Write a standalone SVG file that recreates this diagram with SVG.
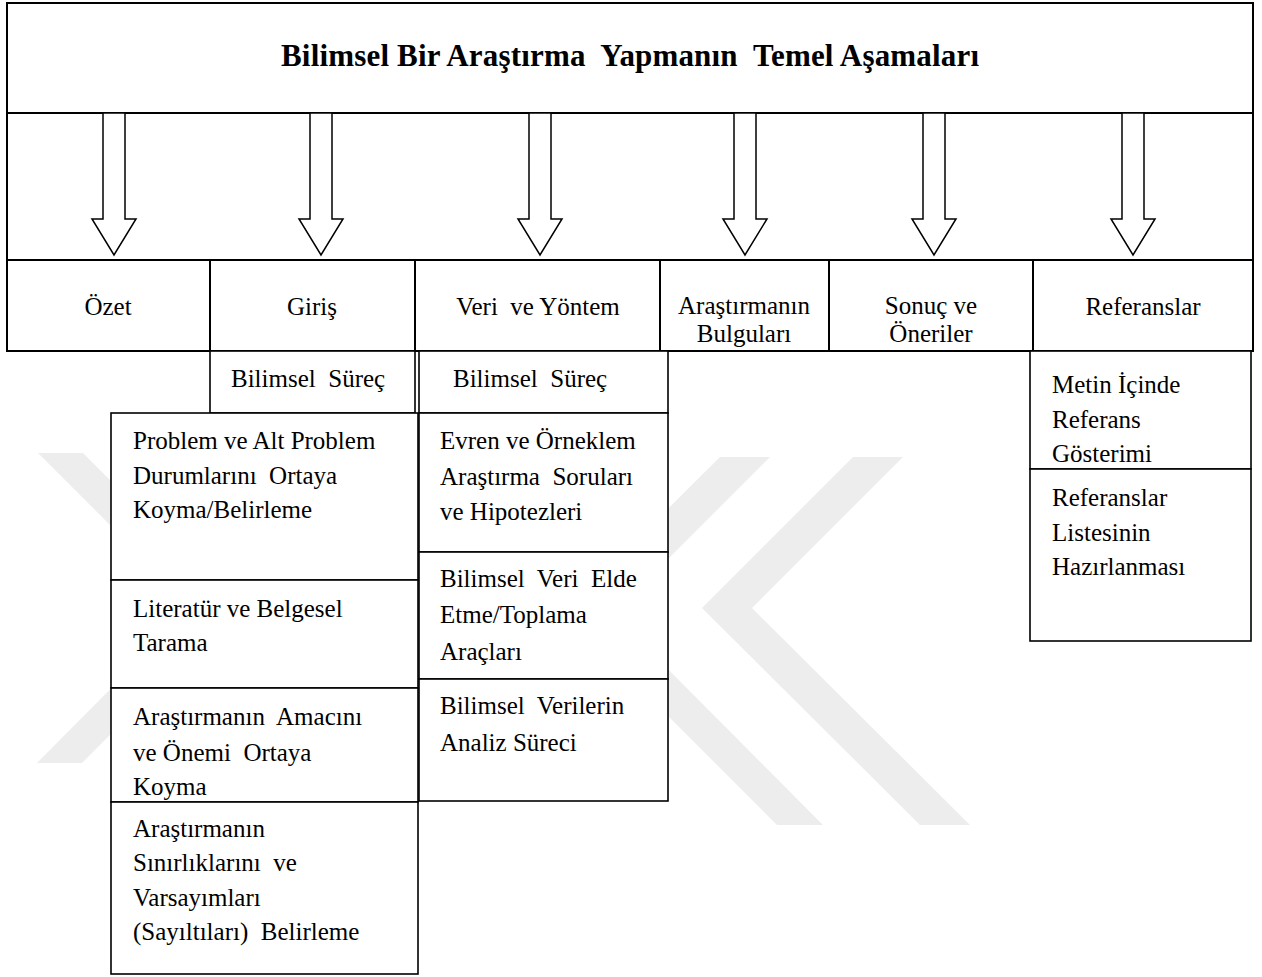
<svg xmlns="http://www.w3.org/2000/svg" width="1262" height="977" viewBox="0 0 1262 977">
<style>
.frame{fill:none;stroke:#000;stroke-width:2}
.cell{fill:none;stroke:#000;stroke-width:2}
.box{fill:#fff;stroke:#000;stroke-width:1.6}
.arrow{fill:#fff;stroke:#000;stroke-width:1.5;stroke-linejoin:miter}
.t{font-family:"Liberation Serif","Times New Roman",serif;font-size:25px;fill:#000}
.c{text-anchor:middle}
.title{font-family:"Liberation Serif","Times New Roman",serif;font-size:31px;font-weight:bold;text-anchor:middle;fill:#000}
.wm{fill:#ededed}
</style>
<defs>
<polygon id="arr" points="-11,0 11,0 11,106 22,106 0,142 -22,106 -11,106"/>
</defs>
<rect width="1262" height="977" fill="#fff"/>
<g id="watermark">
<polygon class="wm" points="38,453 83,453 237,607 82,763 37,763 192,607"/>
<polygon class="wm" points="720,457 770,457 613,614 823,825 777,825 564,612"/>
<polygon class="wm" points="853,457 903,457 752,608 970,825 920,825 702,608"/>
</g>
<g id="title">
<rect class="frame" x="7" y="3" width="1246" height="110"/>
<text class="title" x="630" y="66" textLength="698" lengthAdjust="spacing" xml:space="preserve">Bilimsel Bir Araştırma  Yapmanın  Temel Aşamaları</text>
</g>
<g id="frame-sides">
<line class="frame" x1="7" y1="113" x2="7" y2="260"/>
<line class="frame" x1="1253" y1="113" x2="1253" y2="260"/>
</g>
<g id="connectors">
<use href="#arr" class="arrow" x="114" y="113"/>
<use href="#arr" class="arrow" x="321" y="113"/>
<use href="#arr" class="arrow" x="540" y="113"/>
<use href="#arr" class="arrow" x="745" y="113"/>
<use href="#arr" class="arrow" x="934" y="113"/>
<use href="#arr" class="arrow" x="1133" y="113"/>
</g>
<g id="ozet">
<rect class="cell" x="7" y="260" width="203" height="91"/>
<text class="t c" x="108" y="315">Özet</text>
</g>
<g id="giris">
<rect class="cell" x="210" y="260" width="205" height="91"/>
<text class="t c" x="312" y="315">Giriş</text>
</g>
<g id="veri-yontem">
<rect class="cell" x="415" y="260" width="245" height="91"/>
<text class="t c" x="538" y="315" xml:space="preserve">Veri  ve Yöntem</text>
</g>
<g id="bulgular">
<rect class="cell" x="660" y="260" width="169" height="91"/>
<text class="t c" x="744" y="314">Araştırmanın</text>
<text class="t c" x="744" y="342">Bulguları</text>
</g>
<g id="sonuc">
<rect class="cell" x="829" y="260" width="204" height="91"/>
<text class="t c" x="931" y="314">Sonuç ve</text>
<text class="t c" x="931" y="342">Öneriler</text>
</g>
<g id="referanslar">
<rect class="cell" x="1033" y="260" width="220" height="91"/>
<text class="t c" x="1143" y="315">Referanslar</text>
</g>
<g id="giris-surec">
<rect class="box" x="210" y="351" width="205" height="62"/>
<text class="t" x="231" y="387" xml:space="preserve">Bilimsel  Süreç</text>
</g>
<g id="veri-surec">
<rect class="box" x="419" y="351" width="249" height="62"/>
<text class="t" x="453" y="387" xml:space="preserve">Bilimsel  Süreç</text>
</g>
<g id="problem">
<rect class="box" x="111" y="413" width="307" height="167"/>
<text class="t" x="133" y="449">Problem ve Alt Problem</text>
<text class="t" x="133" y="484" xml:space="preserve">Durumlarını  Ortaya</text>
<text class="t" x="133" y="518">Koyma/Belirleme</text>
</g>
<g id="literatur">
<rect class="box" x="111" y="580" width="307" height="108"/>
<text class="t" x="133" y="617">Literatür ve Belgesel</text>
<text class="t" x="133" y="651">Tarama</text>
</g>
<g id="amac">
<rect class="box" x="111" y="688" width="307" height="114"/>
<text class="t" x="133" y="725" xml:space="preserve">Araştırmanın  Amacını</text>
<text class="t" x="133" y="761" xml:space="preserve">ve Önemi  Ortaya</text>
<text class="t" x="133" y="795">Koyma</text>
</g>
<g id="sinirliklar">
<rect class="box" x="111" y="802" width="307" height="172"/>
<text class="t" x="133" y="837">Araştırmanın</text>
<text class="t" x="133" y="871" xml:space="preserve">Sınırlıklarını  ve</text>
<text class="t" x="133" y="906">Varsayımları</text>
<text class="t" x="133" y="940" xml:space="preserve">(Sayıltıları)  Belirleme</text>
</g>
<g id="evren">
<rect class="box" x="419" y="413" width="249" height="139"/>
<text class="t" x="440" y="449">Evren ve Örneklem</text>
<text class="t" x="440" y="485" xml:space="preserve">Araştırma  Soruları</text>
<text class="t" x="440" y="520">ve Hipotezleri</text>
</g>
<g id="veri-toplama">
<rect class="box" x="419" y="552" width="249" height="127"/>
<text class="t" x="440" y="587" xml:space="preserve">Bilimsel  Veri  Elde</text>
<text class="t" x="440" y="623">Etme/Toplama</text>
<text class="t" x="440" y="660">Araçları</text>
</g>
<g id="analiz">
<rect class="box" x="419" y="679" width="249" height="122"/>
<text class="t" x="440" y="714" xml:space="preserve">Bilimsel  Verilerin</text>
<text class="t" x="440" y="751">Analiz Süreci</text>
</g>
<g id="metin-ici">
<rect class="box" x="1030" y="351" width="221" height="118"/>
<text class="t" x="1052" y="393">Metin İçinde</text>
<text class="t" x="1052" y="428">Referans</text>
<text class="t" x="1052" y="462">Gösterimi</text>
</g>
<g id="referans-listesi">
<rect class="box" x="1030" y="469" width="221" height="172"/>
<text class="t" x="1052" y="506">Referanslar</text>
<text class="t" x="1052" y="541">Listesinin</text>
<text class="t" x="1052" y="575">Hazırlanması</text>
</g>
</svg>
